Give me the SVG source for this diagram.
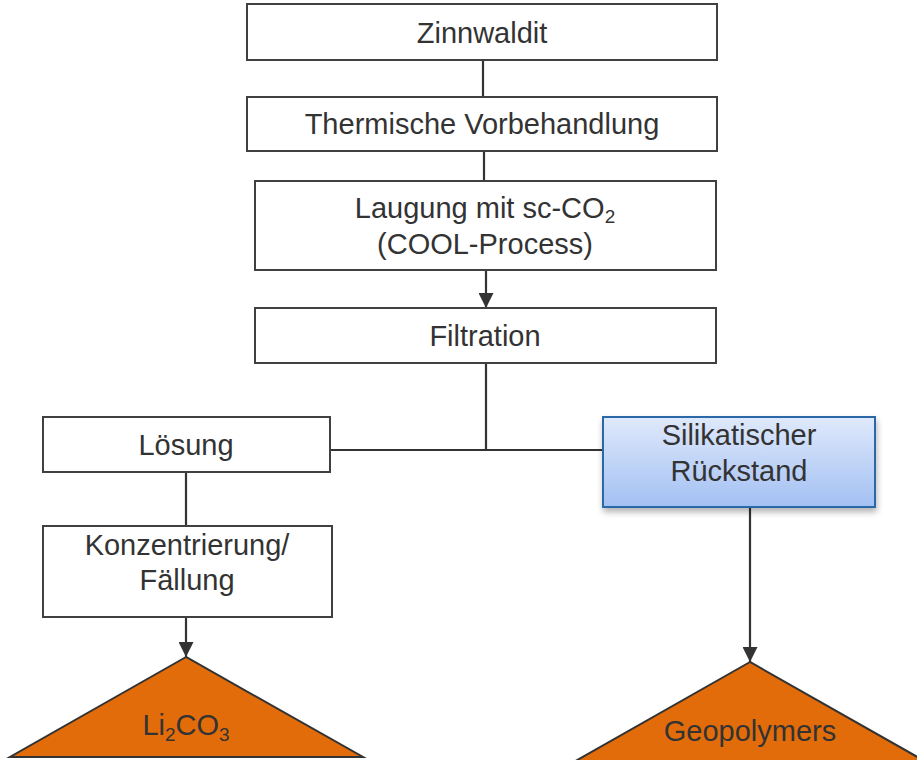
<svg xmlns="http://www.w3.org/2000/svg" width="917" height="760" viewBox="0 0 917 760">
<style>
.box{fill:#fff;stroke:#404040;stroke-width:2}
.tri{fill:#e36c0a;stroke:#333;stroke-width:2;stroke-linejoin:miter}
.t{font-family:"Liberation Sans",Arial,sans-serif;font-size:29px;fill:#333;text-anchor:middle}
.ln{stroke:#333;stroke-width:2.2;fill:none}
</style>
<defs>
<marker id="ah" markerWidth="15" markerHeight="15" viewBox="0 0 15 15" refX="15" refY="7.5" orient="auto" markerUnits="userSpaceOnUse">
<path d="M0,0 L15,7.5 L0,15 z" fill="#333"/>
</marker>
<linearGradient id="blue" x1="0" y1="0" x2="0" y2="1">
<stop offset="0" stop-color="#dfe9fb"/>
<stop offset="1" stop-color="#a3c0f3"/>
</linearGradient>
<filter id="sh" x="-10%" y="-10%" width="130%" height="140%">
<feDropShadow dx="1" dy="4" stdDeviation="3" flood-color="#000" flood-opacity="0.3"/>
</filter>
</defs>
<g id="connectors">
<line class="ln" x1="483" y1="60" x2="483" y2="97"/>
<line class="ln" x1="484" y1="151" x2="484" y2="181"/>
<line class="ln" x1="486" y1="270" x2="486" y2="308" marker-end="url(#ah)"/>
<line class="ln" x1="486" y1="363" x2="486" y2="450"/>
<line class="ln" x1="330" y1="450" x2="603" y2="450"/>
<line class="ln" x1="186" y1="472" x2="186" y2="526"/>
<line class="ln" x1="186" y1="617" x2="186" y2="657" marker-end="url(#ah)"/>
<line class="ln" x1="750" y1="507" x2="750" y2="662" marker-end="url(#ah)"/>
</g>
<g id="zinnwaldit">
<rect class="box" x="247" y="4" width="470" height="56"/>
<text class="t" x="482" y="43">Zinnwaldit</text>
</g>
<g id="thermische">
<rect class="box" x="247" y="97" width="470" height="54"/>
<text class="t" x="482" y="134">Thermische Vorbehandlung</text>
</g>
<g id="laugung">
<rect class="box" x="255" y="181" width="461" height="89"/>
<text class="t" x="485" y="218">Laugung mit sc-CO<tspan font-size="19" dy="5">2</tspan></text>
<text class="t" x="485" y="254">(COOL-Process)</text>
</g>
<g id="filtration">
<rect class="box" x="255" y="308" width="461" height="55"/>
<text class="t" x="485" y="346">Filtration</text>
</g>
<g id="loesung">
<rect class="box" x="43" y="417" width="287" height="55"/>
<text class="t" x="186" y="455">Lösung</text>
</g>
<g id="konzentrierung">
<rect class="box" x="43" y="526" width="289" height="91"/>
<text class="t" x="187" y="555">Konzentrierung/</text>
<text class="t" x="187" y="590">Fällung</text>
</g>
<g id="silikatischer">
<rect x="603" y="417" width="272" height="90" fill="url(#blue)" stroke="#2a68a8" stroke-width="2" filter="url(#sh)"/>
<text class="t" x="739" y="445">Silikatischer</text>
<text class="t" x="739" y="481">Rückstand</text>
</g>
<g id="li2co3">
<polygon class="tri" points="186,657 10,757 363,757"/>
<text class="t" x="186" y="735">Li<tspan font-size="19" dy="6">2</tspan><tspan dy="-6">CO</tspan><tspan font-size="19" dy="6">3</tspan></text>
</g>
<g id="geopolymers">
<polygon class="tri" points="750,662 572,763 928,763"/>
<text class="t" x="750" y="741">Geopolymers</text>
</g>
</svg>
